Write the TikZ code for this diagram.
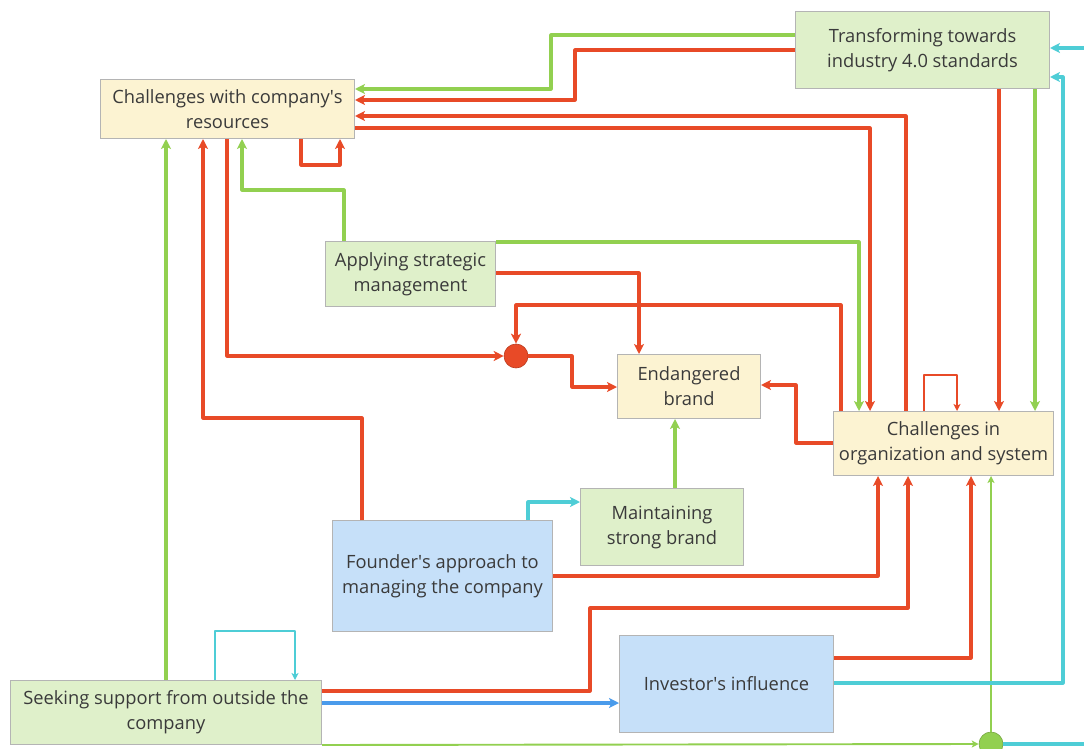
\documentclass[tikz,border=0pt]{standalone}
\usepackage{fontspec}
\setmainfont{Open Sans}
\usetikzlibrary{arrows.meta,calc}
\definecolor{redc}{HTML}{E84A27}
\definecolor{greenc}{HTML}{92D050}
\definecolor{cyanc}{HTML}{4ECDD6}
\definecolor{bluec}{HTML}{4A9BEB}
\definecolor{yelfill}{HTML}{FCF3D2}
\definecolor{grnfill}{HTML}{DFF0CA}
\definecolor{blufill}{HTML}{C6E0F9}
\definecolor{boxline}{HTML}{B4B4B4}
\definecolor{txt}{HTML}{3A3A3A}
\begin{document}
\begin{tikzpicture}[x=1pt,y=-1pt,
  box/.style={draw=boxline, line width=1pt, inner sep=2pt, align=center, anchor=north west, text=txt,
    font=\fontsize{18.3}{25}\selectfont},
  yelbox/.style={box, fill=yelfill},
  grnbox/.style={box, fill=grnfill},
  blubox/.style={box, fill=blufill},
  tipbig/.style={-{Stealth[length=10pt,width=10pt,inset=2.5pt]}},
  tipsmall/.style={-{Stealth[length=7pt,width=7pt,inset=1.8pt]}},
  redline/.style={draw=redc, line width=3.1pt, line join=round, tipbig},
  greenline/.style={draw=greenc, line width=3.1pt, line join=round, tipbig},
  cyanline/.style={draw=cyanc, line width=3.1pt, line join=round, tipbig},
  blueline/.style={draw=bluec, line width=3.1pt, line join=round, tipbig},
  redthin/.style={draw=redc, line width=1.9pt, line join=round, tipsmall},
  greenthin/.style={draw=greenc, line width=1.9pt, line join=round, tipsmall},
  cyanthin/.style={draw=cyanc, line width=1.9pt, line join=round, tipsmall},
]
\useasboundingbox (0,0) rectangle (1084,749);
\clip (0,0) rectangle (1084,749);

% nodes
\node[yelbox, minimum width=254pt, minimum height=59pt] (CR) at (100,79) {Challenges with company\textquotesingle s\\resources};
\node[grnbox, minimum width=254pt, minimum height=77pt] (TI) at (795,11) {Transforming towards\\industry 4.0 standards};
\node[grnbox, minimum width=170pt, minimum height=65pt] (AS) at (325,241) {Applying strategic\\management};
\node[yelbox, minimum width=143pt, minimum height=64pt] (EB) at (617,354) {Endangered\\brand};
\node[yelbox, minimum width=220pt, minimum height=64pt] (CO) at (833,411) {Challenges in\\organization and system};
\node[grnbox, minimum width=163pt, minimum height=77pt] (MS) at (580,488) {Maintaining\\strong brand};
\node[blubox, minimum width=220pt, minimum height=111pt] (FA) at (332,520) {Founder\textquotesingle s approach to\\managing the company};
\node[blubox, minimum width=214pt, minimum height=97pt] (II) at (619,635) {Investor\textquotesingle s influence};
\node[grnbox, minimum width=311pt, minimum height=64pt] (SS) at (10,680) {Seeking support from outside the\\company};
\node[circle, fill=redc, draw=redc!80!black, line width=0.6pt, minimum size=24pt, inner sep=0pt] (RC) at (516,356) {};
\node[circle, fill=greenc, draw=greenc!80!black, line width=0.6pt, minimum size=24pt, inner sep=0pt] (GC) at (991,744) {};

% connectors
\draw[greenline] ($(TI.north west)+(0,24)$) -- (551,35) -- (551,89) -- ($(CR.north east)+(0,10)$);
\draw[redline] ($(TI.north west)+(0,39)$) -- (575,50) -- (575,100) -- ($(CR.north east)+(0,21)$);
\draw[redline] ($(CO.north west)+(73,0)$) -- (906,116) -- ($(CR.north east)+(0,37)$);
\draw[redline] ($(CR.north east)+(0,49)$) -- (870,128) -- ($(CO.north west)+(37,0)$);
\draw[redline] ($(CR.south west)+(201,0)$) -- (301,165) -- (340,165) -- ($(CR.south west)+(240,0)$);
\draw[greenline] ($(AS.north west)+(19,0)$) -- (344,190) -- (242,190) -- ($(CR.south west)+(142,0)$);
\draw[redline] ($(CR.south west)+(127,0)$) -- (227,356) -- (RC.west);
\draw[redline] ($(FA.north west)+(30,0)$) -- (362,418) -- (203,418) -- ($(CR.south west)+(103,0)$);
\draw[greenline] ($(SS.north west)+(156,0)$) -- ($(CR.south west)+(66,0)$);
\draw[greenline] ($(AS.north east)+(0,1)$) -- (859,242) -- ($(CO.north west)+(26,0)$);
\draw[redline] ($(AS.north east)+(0,32)$) -- (639,273) -- ($(EB.north west)+(22,0)$);
\draw[redline] ($(CO.north west)+(8,0)$) -- (841,305) -- (516,305) -- (RC.north);
\draw[redline] (RC.east) -- (572,356) -- (572,387) -- ($(EB.north west)+(0,33)$);
\draw[redline] ($(CO.north west)+(0,32)$) -- (796,443) -- (796,385) -- ($(EB.north east)+(0,31)$);
\draw[redthin] ($(CO.north west)+(91,0)$) -- (924,375) -- (957,375) -- ($(CO.north west)+(124,0)$);
\draw[redline] ($(TI.south west)+(204,0)$) -- ($(CO.north west)+(166,0)$);
\draw[greenline] ($(TI.south west)+(240,0)$) -- ($(CO.north west)+(202,0)$);
\draw[greenline] ($(MS.north west)+(95,0)$) -- ($(EB.south west)+(58,0)$);
\draw[cyanline] ($(FA.north west)+(196,0)$) -- (528,502) -- ($(MS.north west)+(0,14)$);
\draw[redline] ($(FA.north east)+(0,56)$) -- (878,576) -- ($(CO.south west)+(45,0)$);
\draw[redline] ($(SS.north east)+(0,11)$) -- (590,691) -- (590,608) -- (908,608) -- ($(CO.south west)+(75,0)$);
\draw[redline] ($(II.north east)+(0,23)$) -- (971,658) -- ($(CO.south west)+(138,0)$);
\draw[blueline] ($(SS.north east)+(0,23)$) -- ($(II.north west)+(0,68)$);
\draw[cyanthin] ($(SS.north west)+(205,0)$) -- (215,631) -- (295,631) -- ($(SS.north west)+(285,0)$);
\draw[greenthin] (SS.south east) -- (GC.west);
\draw[greenthin] (GC.north) -- ($(CO.south west)+(158,0)$);
\draw[cyanline] (GC.east) -- (1095,744) -- (1095,48) -- ($(TI.north east)+(0,37)$);
\draw[cyanline] ($(II.north east)+(0,48)$) -- (1063,683) -- (1063,77) -- ($(TI.north east)+(0,66)$);
\end{tikzpicture}
\end{document}
